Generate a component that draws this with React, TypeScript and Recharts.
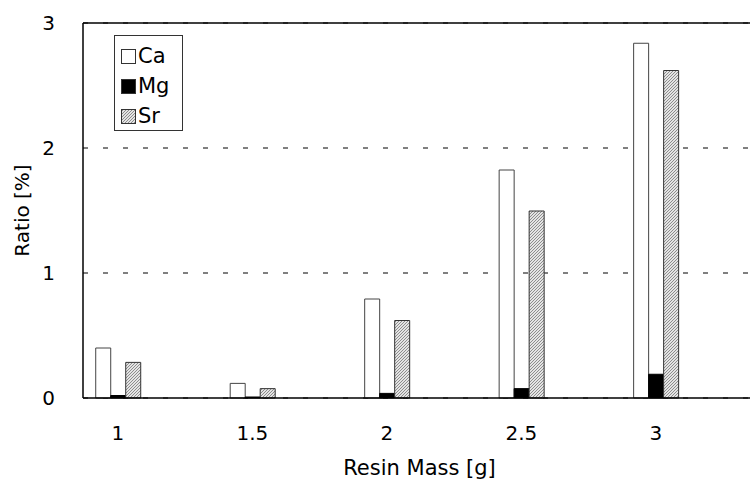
import React from 'react';
import { BarChart, Bar, XAxis, YAxis, CartesianGrid, Legend, ReferenceLine } from 'recharts';

const masses = [1, 1.5, 2, 2.5, 3];
const caValues = [0.4, 0.117, 0.792, 1.824, 2.838];
const mgValues = [0.02, 0.008, 0.037, 0.075, 0.19];
const srValues = [0.285, 0.075, 0.62, 1.496, 2.62];
const xTicks = [1, 1.5, 2, 2.5, 3];
const yTicks = [0, 1, 2, 3];

const data = masses.map((m, i) => ({ mass: m, Ca: caValues[i], Mg: mgValues[i], Sr: srValues[i] }));

const FONT = '"DejaVu Sans", "Noto Sans", sans-serif';

const legendItems = [
  { name: 'Ca', fill: '#ffffff' },
  { name: 'Mg', fill: '#000000' },
  { name: 'Sr', fill: 'url(#hatch)' },
];

const LegendBox = () => (
  <div
    style={{
      border: '1px solid #333',
      background: '#fff',
      padding: '5px 0 0 6px',
      width: 61,
      height: 89,
      boxSizing: 'content-box',
      fontFamily: FONT,
      fontSize: 21,
      color: '#000',
    }}
  >
    {legendItems.map((it) => (
      <div key={it.name} style={{ height: 30, display: 'flex', alignItems: 'center' }}>
        <svg width={15} height={15} style={{ marginRight: 2 }}>
          <rect x={0.5} y={0.5} width={14} height={14} fill={it.fill} stroke="#333" strokeWidth={1} />
        </svg>
        <span style={{ lineHeight: '30px' }}>{it.name}</span>
      </div>
    ))}
  </div>
);

export default function App() {
  return (
    <div style={{ position: 'absolute', left: 0, top: 0, background: '#fff' }}>
      <BarChart
        width={750}
        height={479}
        data={data}
        margin={{ top: 23, right: 0, left: 0, bottom: 0 }}
        barGap={0}
        barCategoryGap={0}
      >
        <defs>
          <pattern id="hatch" patternUnits="userSpaceOnUse" width={3} height={3}>
            <rect x={0} y={0} width={3} height={3} fill="#e4e4e4" />
            <path d="M-1,1 L1,-1 M0,3 L3,0 M2,4 L4,2" stroke="#777" strokeWidth={0.8} />
          </pattern>
        </defs>
        <CartesianGrid vertical={false} stroke="#000" strokeDasharray="5 15" />
        <XAxis
          dataKey="mass"
          type="number"
          domain={[0.87, 3.35]}
          ticks={xTicks}
          height={81}
          tickLine={false}
          tickSize={0}
          tickMargin={28}
          axisLine={{ stroke: '#000', strokeWidth: 1.5 }}
          tick={{ fill: '#000', fontSize: 20, fontFamily: FONT }}
          label={{
            value: 'Resin Mass [g]',
            position: 'insideBottom',
            offset: 4,
            dx: 3,
            fill: '#000',
            fontSize: 21,
            fontFamily: FONT,
          }}
        />
        <YAxis
          type="number"
          domain={[0, 3]}
          ticks={yTicks}
          width={83}
          tickLine={false}
          tickSize={0}
          tickMargin={28}
          axisLine={{ stroke: '#000', strokeWidth: 1.5 }}
          tick={{ fill: '#000', fontSize: 20, fontFamily: FONT }}
          label={{
            value: 'Ratio [%]',
            angle: -90,
            position: 'center',
            dx: -20,
            fill: '#000',
            fontSize: 20,
            fontFamily: FONT,
          }}
        />
        <ReferenceLine y={3} stroke="#000" strokeWidth={1.5} />
        <Legend
          layout="vertical"
          align="center"
          verticalAlign="middle"
          content={<LegendBox />}
          wrapperStyle={{ position: 'absolute', left: 114, top: 35, width: 68 }}
        />
        <Bar dataKey="Ca" barSize={15} fill="#ffffff" stroke="#444" strokeWidth={1} isAnimationActive={false} />
        <Bar dataKey="Mg" barSize={15} fill="#000000" stroke="#000" strokeWidth={1} isAnimationActive={false} />
        <Bar dataKey="Sr" barSize={15} fill="url(#hatch)" stroke="#333" strokeWidth={1} isAnimationActive={false} />
      </BarChart>
    </div>
  );
}
